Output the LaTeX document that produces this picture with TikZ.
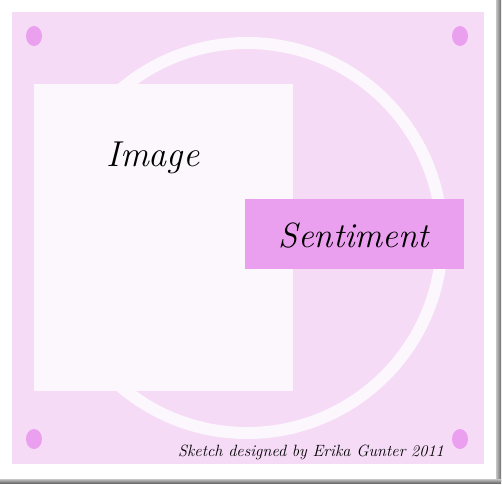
\documentclass[tikz,border=0pt]{standalone}
\usepackage{tikz}
\definecolor{card}{RGB}{245, 219, 246}
\definecolor{blush}{RGB}{235, 160, 239}
\definecolor{paper}{RGB}{251, 247, 252}
\definecolor{frame}{RGB}{110, 110, 110}

\begin{document}
\begin{tikzpicture}[x=1pt, y=-1pt]

  \useasboundingbox (0, 0) rectangle (502, 484);
  \fill[white] (0, 0) rectangle (502, 484);

  % shadow edges
  \fill[left color=frame!40, right color=frame] (496, 0) rectangle (501, 481);
  \fill[top color=frame!40, bottom color=frame] (0, 479) rectangle (501, 483);

  \fill[card] (12, 12) rectangle (484, 464);

  \foreach \x/\y in {34/36, 460/36, 34/439, 460/439} {
    \fill[blush] (\x, \y) ellipse (8 and 10);
  }

  \draw[paper, line width=12] (247, 238) circle (195);

  \fill[paper] (34, 84) rectangle (293, 391);
  \node (image) at (153, 158) {\fontsize{36}{42}\selectfont\itshape Image};

  \fill[blush] (245, 199) rectangle (464, 269);
  \node (sentiment) at (354, 236) {\fontsize{35}{42}\selectfont\itshape Sentiment};

  \node (credit) at (311, 452) {\fontsize{16.3}{19}\selectfont\itshape Sketch designed by Erika Gunter 2011};

\end{tikzpicture}
\end{document}
